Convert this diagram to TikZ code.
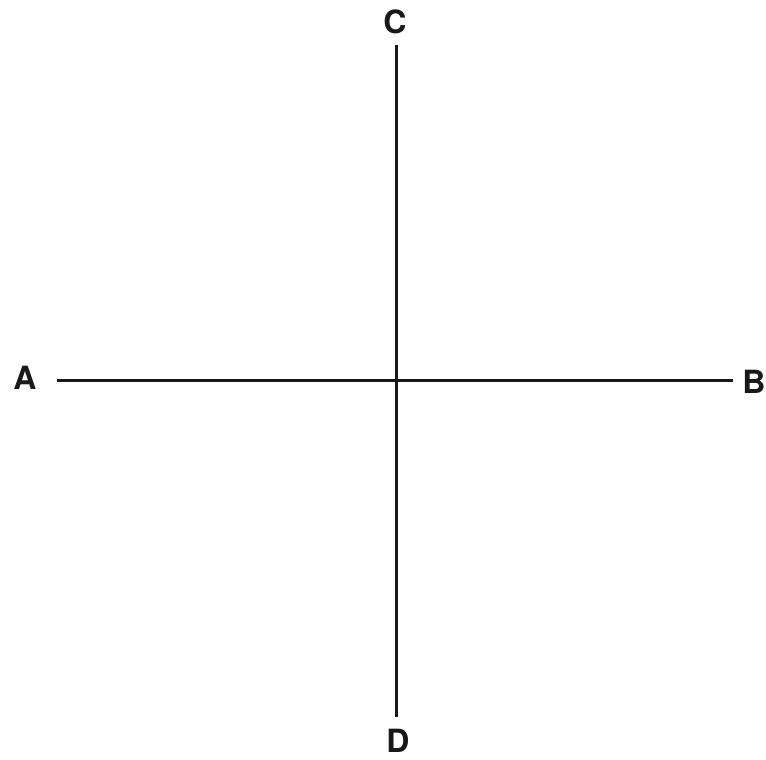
\documentclass[tikz,border=0pt]{standalone}
\usepackage{fontspec}
\setmainfont{TeX Gyre Heros}
\begin{document}
\begin{tikzpicture}[x=1pt,y=-1pt,
  axis/.style={line width=3pt,color=black!90},
  lbl/.style={font=\fontsize{32}{32}\selectfont\bfseries,text=black!90,inner sep=0pt,anchor=center}]
\useasboundingbox[fill=white] (0,0) rectangle (766,760);
\coordinate (cT) at (396,45);
\coordinate (cB) at (396,717);
\coordinate (aL) at (57,380);
\coordinate (aR) at (733,380);
\node[lbl] (C) at (395,22) {C};
\node[lbl] (D) at (398,741) {D};
\node[lbl] (A) at (25,378) {A};
\node[lbl] (B) at (754,382) {B};
\draw[axis] (cT) -- (cB);
\draw[axis] (aL) -- (aR);
\end{tikzpicture}
\end{document}
